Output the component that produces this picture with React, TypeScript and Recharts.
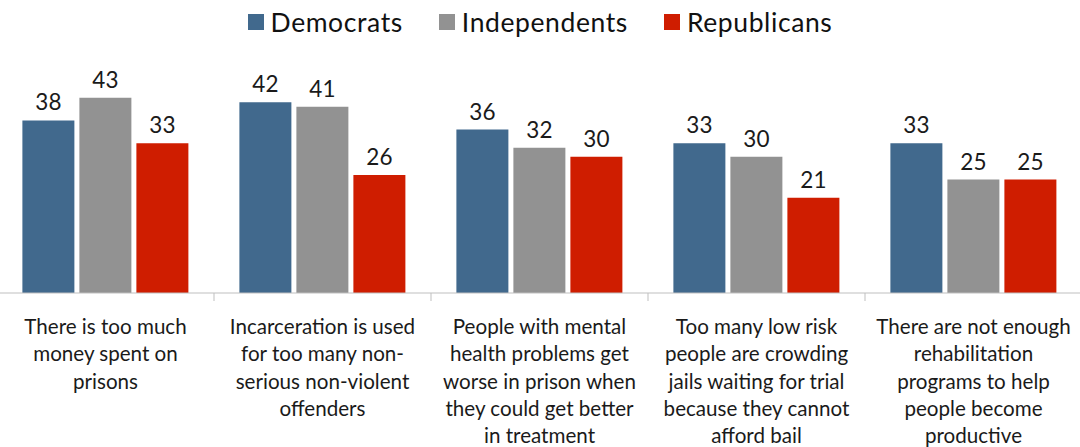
import React from 'react';
import { BarChart, Bar, XAxis, YAxis, Legend, LabelList } from 'recharts';

// categories carry their own line breaks for the wrapped axis labels
const categories = [
  'There is too much\nmoney spent on\nprisons',
  'Incarceration is used\nfor too many non-\nserious non-violent\noffenders',
  'People with mental\nhealth problems get\nworse in prison when\nthey could get better\nin treatment',
  'Too many low risk\npeople are crowding\njails waiting for trial\nbecause they cannot\nafford bail',
  'There are not enough\nrehabilitation\nprograms to help\npeople become\nproductive',
];
const democrats = [38, 42, 36, 33, 33];
const independents = [43, 41, 32, 30, 25];
const republicans = [33, 26, 30, 21, 25];

const data = categories.map((name, i) => ({
  name,
  Democrats: democrats[i],
  Independents: independents[i],
  Republicans: republicans[i],
}));

const FONT = 'Lato, "Open Sans", sans-serif';
const W = 1080;
const H = 447;
const MARGIN = { top: 66, right: -2, bottom: 0, left: -3 };
const BAND = (W - MARGIN.left - MARGIN.right) / categories.length;

const COLORS = { Democrats: '#41698d', Independents: '#929292', Republicans: '#cf1d00' };

const CategoryTick = (props: any) => {
  const { x, y, payload, index } = props;
  const lines = String(payload.value).split('\n');
  return (
    <g>
      {index > 0 && (
        <line x1={x - BAND / 2} x2={x - BAND / 2} y1={y} y2={y + 8} stroke="#bfbfbf" strokeWidth={1} />
      )}
      <text x={x} y={y + 41} textAnchor="middle" fill="#1a1a1a" fontSize={20.6} fontFamily={FONT}>
        {lines.map((l, i) => (
          <tspan key={i} x={x} dy={i === 0 ? 0 : 27.3}>{l}</tspan>
        ))}
      </text>
    </g>
  );
};

const LegendContent = (props: any) => {
  const { payload } = props;
  return (
    <div style={{ display: 'flex', justifyContent: 'center', gap: 36, fontFamily: FONT, fontSize: 26.5, letterSpacing: 0.6, color: '#111', lineHeight: '30px' }}>
      {payload.map((p: any) => (
        <div key={p.value} style={{ display: 'flex', alignItems: 'center' }}>
          <span style={{ width: 16, height: 16, background: p.color, display: 'inline-block', marginRight: 7 }} />
          <span>{p.value}</span>
        </div>
      ))}
    </div>
  );
};

export default function App() {
  return (
    <div style={{ width: W, height: H, background: '#fff' }}>
      <style>{'body{margin:0}'}</style>
      <BarChart width={W} height={H} data={data} margin={MARGIN} barCategoryGap="11.7%" barGap={5}>
        <XAxis
          dataKey="name"
          height={H - 293}
          interval={0}
          tickSize={0}
          tickMargin={0}
          tickLine={false}
          axisLine={{ stroke: '#bfbfbf' }}
          tick={<CategoryTick />}
        />
        <YAxis hide domain={[0, 50]} />
        <Legend
          layout="horizontal"
          verticalAlign="middle"
          align="center"
          wrapperStyle={{ top: 7, left: 0, width: W }}
          content={<LegendContent />}
        />
        {(['Democrats', 'Independents', 'Republicans'] as const).map((k) => (
          <Bar key={k} dataKey={k} fill={COLORS[k]} isAnimationActive={false}>
            <LabelList dataKey={k} position="top" offset={10} fill="#1a1a1a" fontSize={22.5} fontFamily={FONT} />
          </Bar>
        ))}
      </BarChart>
    </div>
  );
}
